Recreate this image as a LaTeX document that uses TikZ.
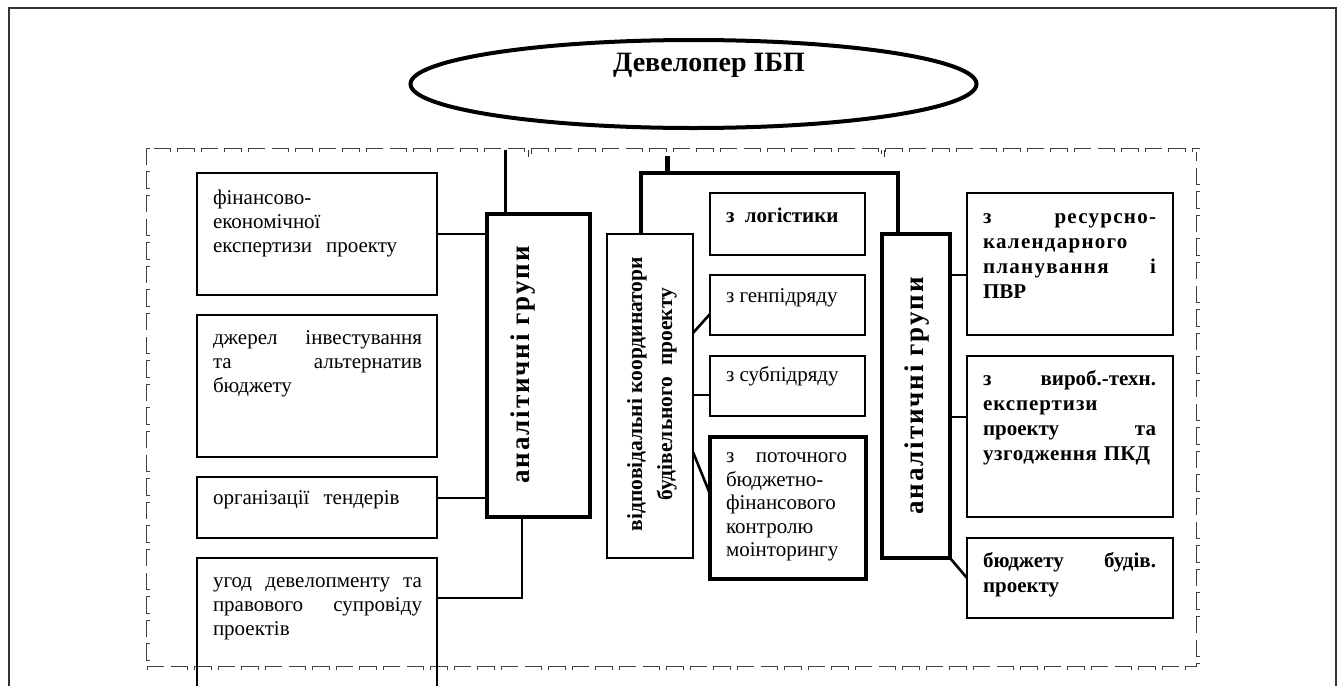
\documentclass[tikz,border=0pt]{standalone}
\usepackage{fontspec}
\setmainfont{Liberation Serif}
\usetikzlibrary{shapes.geometric,calc}
\newcommand\mkbox[6]{\node[box,#6,minimum width={#4pt-#2pt},minimum height={#5pt-#3pt}] (#1) at ({(#2+#4)/2},{(#3+#5)/2}) {};}
\newcommand\fnt{\fontsize{21}{24}\selectfont}
\newcommand\fntb{\bfseries\fontsize{21}{25}\selectfont}
\newcommand\lsp[2]{{\addfontfeatures{LetterSpace=#1}#2}}
\begin{document}
\begin{tikzpicture}[x=1pt,y=-1pt,
  box/.style={draw, rectangle, inner sep=0pt, outer sep=0pt, line width=2.6pt},
  thickbox/.style={line width=4pt},
  txt/.style={anchor=north west, inner sep=0pt, outer sep=0pt, align=left, font=\fnt},
  txtb/.style={anchor=north west, inner sep=0pt, outer sep=0pt, align=left, font=\fntb},
  vert/.style={rotate=90, inner sep=0pt, align=center, font=\bfseries\fontsize{27}{30}\selectfont},
  conn/.style={line width=2.6pt},
  dsh/.style={draw=black!75, line width=0.7pt, double=white, double distance=3pt, dash pattern=on 13pt off 10.6pt, line cap=rect},
  dbl/.style={draw=black!80, line width=0.6pt, double=white, double distance=2.5pt}]
\useasboundingbox (0,0) rectangle (1338,686);
% outer frame
\draw[line width=2.5pt, black!80] (9,686) -- (9,8) -- (1336,8) -- (1336,686);
% top ellipse
\node[draw, ellipse, line width=4pt, minimum width=566pt, minimum height=88pt, inner sep=0pt] (dev) at (693.5,84) {};
\node[inner sep=0pt, font=\bfseries\fontsize{28}{30}\selectfont] (devt) at (709,65) {Девелопер ІБП};
% dashed region
\draw[dsh] (148,150) rectangle (1198,668);
% left column
\mkbox{L1}{197}{173}{437}{295}{}
\mkbox{L2}{197}{315}{437}{457}{}
\mkbox{L3}{197}{477}{437}{538}{}
\node[rectangle, inner sep=0pt, outer sep=0pt, minimum width=240pt, minimum height=128pt] (L4) at (317,622) {};
\draw[line width=2.6pt] (L4.south west) |- (L4.north east) -- (L4.south east);
\mkbox{lag}{487}{214}{590}{517}{thickbox}
\node[vert] (lagt) at (523,365) {\lsp{7}{аналітичні групи}};
\node[txt, text width=209pt] (L1t) at (213,188) {\strut фінансово-\\економічної\\експертизи\ \ проекту};
\node[txt, text width=209pt] (L2t) at (213,328) {\strut джерел\hfill інвестування\\та\hfill альтернатив\\бюджету};
\node[txt, text width=209pt] (L3t) at (213,488) {\strut організації\ \ тендерів};
\node[txt, text width=209pt] (L4t) at (213,571) {\strut угод\hfill девелопменту\hfill та\\правового\hfill супровіду\\проектів};
% middle column
\mkbox{coord}{607}{234}{693}{558}{}
\node[vert, font=\bfseries\fontsize{21.5}{30}\selectfont] (coordt) at (652,394) {відповідальні координатори\\будівельного\ \ проекту};
\mkbox{M1}{710}{193}{865}{255}{}
\mkbox{M2}{710}{275}{865}{335}{}
\mkbox{M3}{710}{356}{865}{416}{}
\mkbox{M4}{710}{437}{866}{579}{thickbox}
\node[txtb] (M1t) at (726,205) {\strut з\ \ логістики};
\node[txt] (M2t) at (726,286) {\strut з генпідряду};
\node[txt] (M3t) at (726,365) {\strut з субпідряду};
\node[txt, text width=121pt, font=\fontsize{21}{23.5}\selectfont] (M4t) at (726,446.5) {\strut з\hfill поточного\\бюджетно-\\фінансового\\контролю\\моінторингу};
% right column
\mkbox{rag}{882}{234}{950}{558}{thickbox}
\node[vert] (ragt) at (917,396) {\lsp{7}{аналітичні групи}};
\mkbox{R1}{967}{193}{1173}{335}{}
\mkbox{R2}{967}{356}{1173}{517}{}
\mkbox{R3}{967}{538}{1173}{618}{}
\node[txtb, text width=173pt] (R1t) at (983,205.5) {\strut з\hfill \lsp{6}{ресурсно-}\\\lsp{6}{календарного}\\\lsp{6}{планування}\hfill і\\ПВР};
\node[txtb, text width=173pt] (R2t) at (983,367.5) {\strut з\hfill вироб.-техн.\\\lsp{4.5}{експертизи}\\проекту\hfill та\\\lsp{3}{узгодження} ПКД};
\node[txtb, text width=173pt] (R3t) at (983,549.5) {\strut бюджету\hfill будів.\\проекту};
% top connectors
\coordinate (brL) at (530,150);
\coordinate (brR) at (883,150);
\coordinate (hub) at (667,156);
\coordinate (busL) at (641,173);
\coordinate (busR) at (898,173);
\coordinate (lagtop) at (505,150);
\draw[dbl] (brL) -- ++(0,5.5) -| (brR);
\draw[line width=5pt] (hub) -- (hub |- busL);
\draw[line width=3.5pt] (busL |- coord.north) -- (busL) -- (busR) -- (busR |- rag.north);
\draw[line width=3pt] (lagtop) -- (lagtop |- lag.north);
% left connectors
\draw[conn] (L1.east) -- (L1.east -| lag.west);
\draw[conn] ([yshift=9.5pt]L3.east) coordinate (c3) -- (c3 -| lag.west);
\draw[conn] ([yshift=24pt]L4.east) -| ([xshift=-16.5pt]lag.south);
% middle connectors
\draw[conn] ([yshift=63pt]coord.east) -- ([yshift=-9pt]M2.west);
\draw[conn] ([yshift=-9pt]M3.west) coordinate (c6) -- (c6 -| coord.east);
\draw[conn] ([yshift=-56pt]coord.east) -- ([yshift=14pt]M4.west);
% right connectors
\draw[conn] ([yshift=-11pt]R1.west) coordinate (c8) -- (c8 -| rag.east);
\draw[conn] ([yshift=19.5pt]R2.west) coordinate (c9) -- (c9 -| rag.east);
\draw[conn] (rag.south east) -- (R3.west);
\end{tikzpicture}
\end{document}
